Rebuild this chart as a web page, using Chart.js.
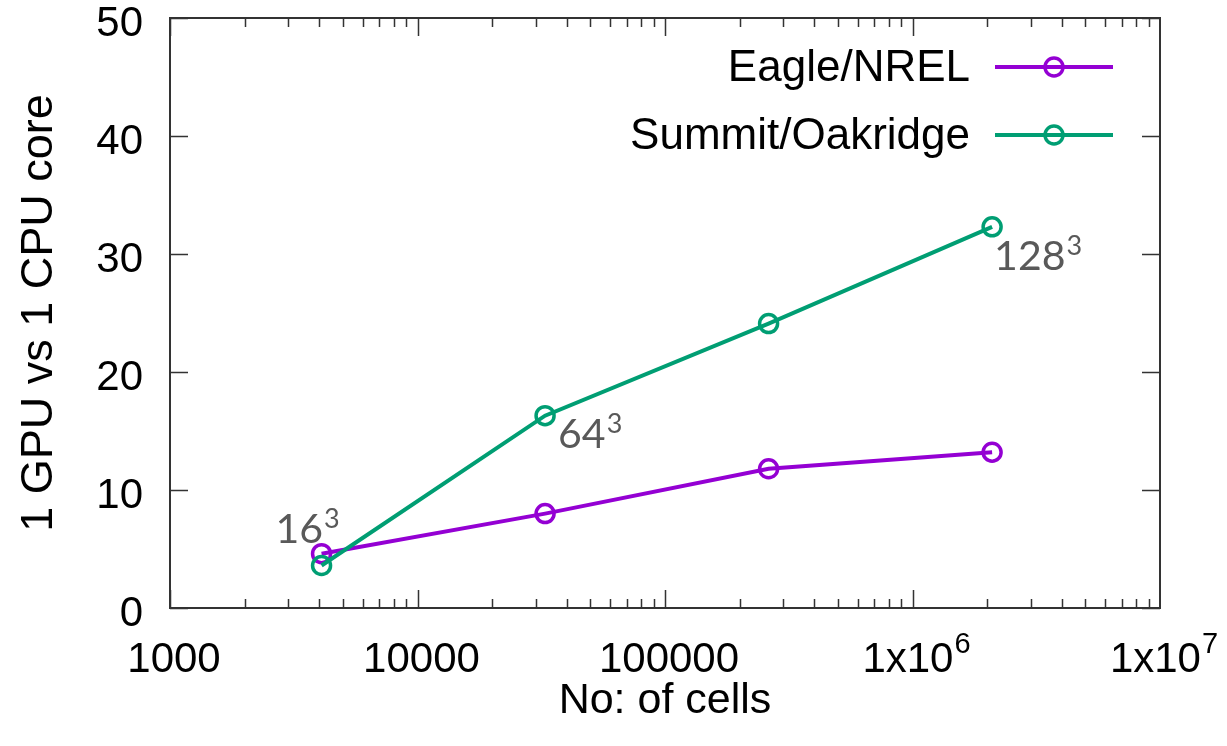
<!DOCTYPE html>
<html>
<head>
<meta charset="utf-8">
<script src="https://cdn.jsdelivr.net/npm/chart.js@4.4.1/dist/chart.umd.min.js"></script>
<style>
    html, body { margin: 0; padding: 0; background: #fff; }
    #wrap { width: 1227px; height: 746px; position: relative; }
</style>
</head>
<body>
<div id="wrap"><canvas id="chart"></canvas></div>
<script>
// ── 資料 ──
const cells = [4096, 32768, 262144, 2097152];
const eagle = [4.6, 8.0, 11.8, 13.2];
const summit = [3.6, 16.3, 24.1, 32.3];
const seriesNames = ['Eagle/NREL', 'Summit/Oakridge'];
const seriesColors = ['#9400d3', '#009e73'];
const xTicks = [1000, 10000, 100000, 1000000, 10000000];
const xTickBase = ['1000', '10000', '100000', '1x10', '1x10'];
const xTickExp = ['', '', '', '6', '7'];
const yTicks = [0, 10, 20, 30, 40, 50];
const gridSizes = ['16', '64', '128'];
const gridPoints = [0, 1, 3];

const AXIS_FONT = 'Liberation Sans';
const FRAME = '#333';

// ── 框線與內側刻度 (gnuplot 風格) ──
const framePlugin = {
    id: 'frame',
    afterDraw(chart) {
        const { ctx, chartArea: a, scales } = chart;
        const xs = scales.x, ys = scales.y;
        ctx.save();
        ctx.strokeStyle = FRAME;
        ctx.lineWidth = 2;
        ctx.strokeRect(a.left, a.top, a.right - a.left, a.bottom - a.top);

        ctx.lineWidth = 1.5;
        ctx.beginPath();
        // x 主刻度與次刻度
        for (let e = 3; e < 7; e++) {
            for (let k = 1; k < 10; k++) {
                const v = k * Math.pow(10, e);
                const px = Math.round(xs.getPixelForValue(v)) + 0.5;
                const len = k === 1 ? 18 : 9;
                ctx.moveTo(px, a.bottom); ctx.lineTo(px, a.bottom - len);
                ctx.moveTo(px, a.top); ctx.lineTo(px, a.top + len);
            }
        }
        // y 刻度
        yTicks.forEach(v => {
            const py = Math.round(ys.getPixelForValue(v)) + 0.5;
            ctx.moveTo(a.left, py); ctx.lineTo(a.left + 18, py);
            ctx.moveTo(a.right, py); ctx.lineTo(a.right - 18, py);
        });
        ctx.stroke();

        // x 刻度標籤 (含上標)
        ctx.fillStyle = '#000';
        ctx.textBaseline = 'alphabetic';
        ctx.textAlign = 'left';
        xTicks.forEach((v, i) => {
            const px = xs.getPixelForValue(v);
            ctx.font = `42px "${AXIS_FONT}"`;
            const wb = ctx.measureText(xTickBase[i]).width;
            ctx.font = `29px "${AXIS_FONT}"`;
            const we = xTickExp[i] ? ctx.measureText(xTickExp[i]).width + 1 : 0;
            const x0 = px - (wb + we) / 2 + (xTickExp[i] ? 4 : 4);
            ctx.font = `42px "${AXIS_FONT}"`;
            ctx.fillText(xTickBase[i], x0, a.bottom + 64);
            if (xTickExp[i]) {
                ctx.font = `29px "${AXIS_FONT}"`;
                ctx.fillText(xTickExp[i], x0 + wb + 1, a.bottom + 45);
            }
        });
        ctx.restore();
    },
};

// ── 圖例 ──
const legendPlugin = {
    id: 'gpLegend',
    afterDraw(chart) {
        const { ctx } = chart;
        ctx.save();
        chart.data.datasets.forEach((ds, i) => {
            const y = 67 + i * 68;
            ctx.font = `44px "${AXIS_FONT}"`;
            ctx.fillStyle = '#000';
            ctx.textAlign = 'right';
            ctx.textBaseline = 'middle';
            ctx.fillText(ds.label, 970, y + 2);
            ctx.strokeStyle = ds.borderColor;
            ctx.lineWidth = 4;
            ctx.beginPath();
            ctx.moveTo(995, y); ctx.lineTo(1113, y);
            ctx.stroke();
            ctx.lineWidth = 3.5;
            ctx.beginPath();
            ctx.arc(1054, y, 9, 0, Math.PI * 2);
            ctx.stroke();
        });
        ctx.restore();
    },
};

// ── 網格尺寸標註 ──
const notePlugin = {
    id: 'notes',
    afterDraw(chart) {
        const { ctx } = chart;
        const pts = chart.getDatasetMeta(1).data;
        const offsets = [[-46, -23], [13, 32], [2, 43]];
        ctx.save();
        ctx.fillStyle = '#595959';
        ctx.textAlign = 'left';
        ctx.textBaseline = 'alphabetic';
        gridPoints.forEach((idx, i) => {
            const p = pts[idx];
            const x = p.x + offsets[i][0];
            const y = p.y + offsets[i][1];
            ctx.font = '41px Lato';
            ctx.fillText(gridSizes[i], x, y);
            const w = ctx.measureText(gridSizes[i]).width;
            ctx.font = '27px Lato';
            ctx.fillText('3', x + w + 1, y - 15);
        });
        ctx.restore();
    },
};

const ctx = document.getElementById('chart').getContext('2d');
new Chart(ctx, {
    type: 'line',
    data: {
        datasets: [
            { label: seriesNames[0], data: cells.map((c, i) => ({ x: c, y: eagle[i] })), order: 2 },
            { label: seriesNames[1], data: cells.map((c, i) => ({ x: c, y: summit[i] })), order: 1 },
        ].map((ds, i) => Object.assign(ds, {
            borderColor: seriesColors[i],
            borderWidth: 4,
            pointRadius: 9,
            pointBorderWidth: 3.5,
            pointBackgroundColor: 'rgba(0,0,0,0)',
            pointBorderColor: seriesColors[i],
            tension: 0,
        })),
    },
    options: {
        responsive: true,
        maintainAspectRatio: false,
        animation: false,
        layout: { padding: { top: 18, right: 67, left: 0, bottom: 0 } },
        plugins: { legend: { display: false }, tooltip: { enabled: false } },
        scales: {
            x: {
                type: 'logarithmic',
                min: 1000,
                max: 10000000,
                afterBuildTicks: s => { s.ticks = xTicks.map(v => ({ value: v })); },
                afterFit: s => { s.height = 138; s.paddingLeft = 0; s.paddingRight = 0; },
                grid: { display: false, drawTicks: false },
                border: { display: false },
                ticks: { display: false },
                title: {
                    display: true,
                    text: 'No: of cells',
                    color: '#000',
                    font: { family: AXIS_FONT, size: 43 },
                    padding: { top: 0, bottom: 19 },
                },
            },
            y: {
                min: 0,
                max: 50,
                afterBuildTicks: s => { s.ticks = yTicks.map(v => ({ value: v })); },
                afterFit: s => { s.width = 170; s.paddingTop = 0; s.paddingBottom = 0; },
                grid: { display: false, drawTicks: false },
                border: { display: false },
                ticks: {
                    padding: 27,
                    labelOffset: 6,
                    color: '#000',
                    font: { family: AXIS_FONT, size: 42 },
                },
                title: {
                    display: true,
                    text: '1 GPU vs 1 CPU core',
                    color: '#000',
                    font: { family: AXIS_FONT, size: 45 },
                    padding: { top: 13, bottom: 0 },
                },
            },
        },
    },
    plugins: [framePlugin, legendPlugin, notePlugin],
});
</script>
</body>
</html>
